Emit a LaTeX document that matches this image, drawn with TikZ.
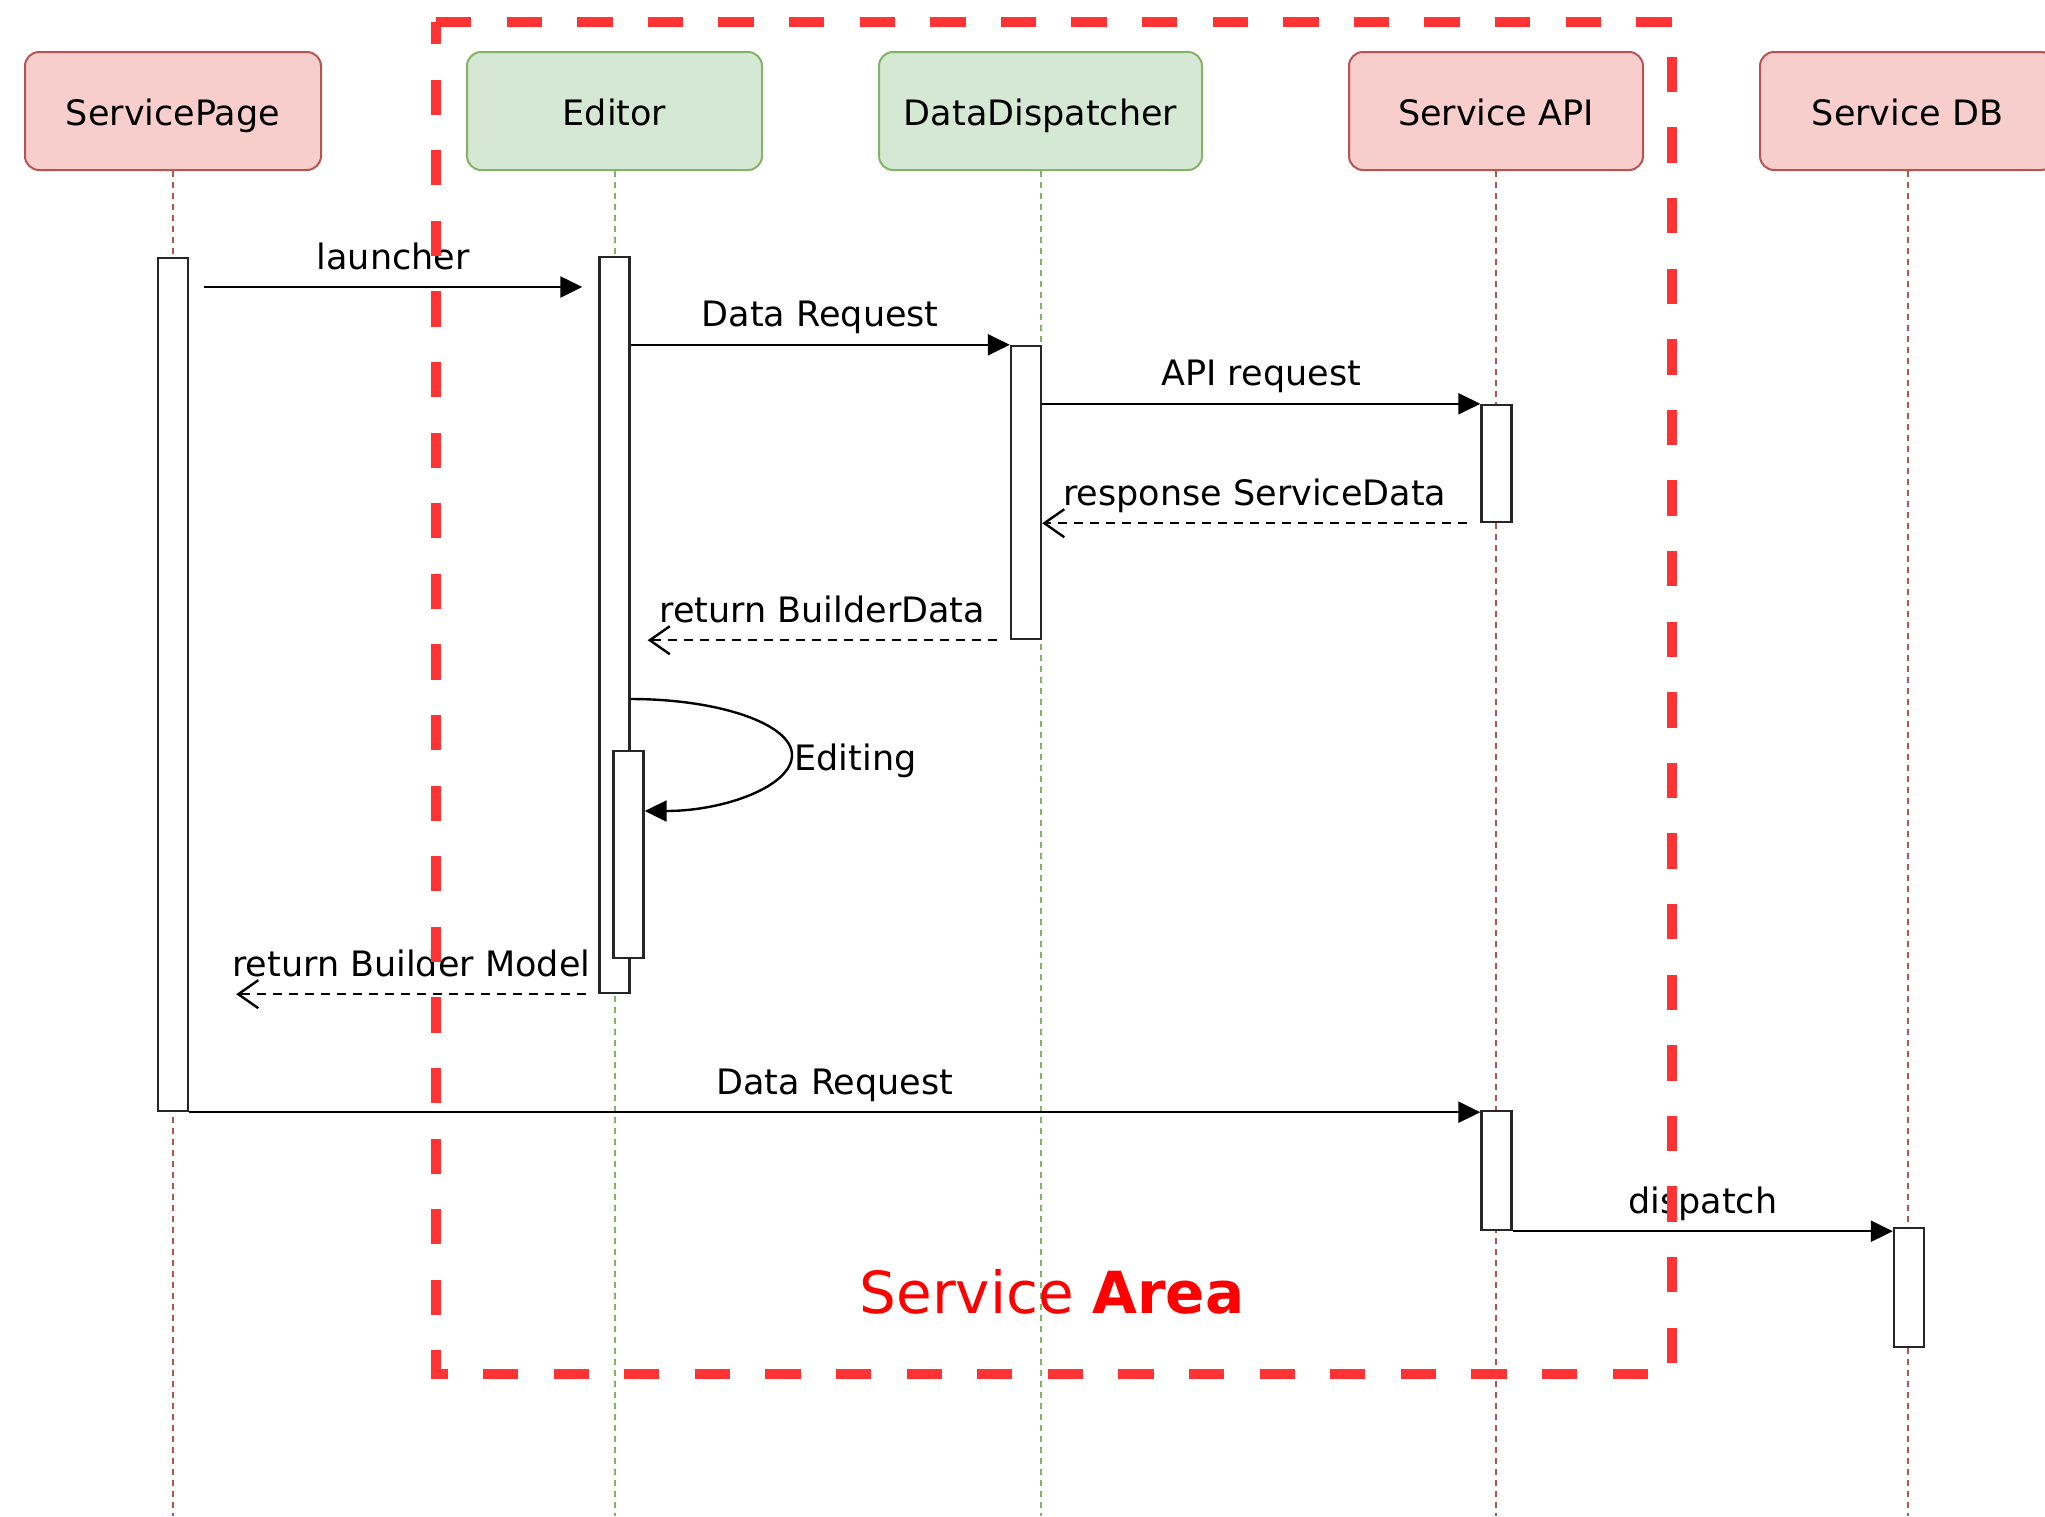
\documentclass[tikz,border=0pt]{standalone}
\usepackage{fontspec}
\setmainfont{DejaVu Sans}
\usetikzlibrary{arrows.meta, calc}
\definecolor{head-red}{HTML}{B85450}
\definecolor{fill-red}{HTML}{F8CECC}
\definecolor{head-green}{HTML}{82B366}
\definecolor{fill-green}{HTML}{D5E8D4}
\definecolor{area-red}{HTML}{FF3333}

\begin{document}
\begin{tikzpicture}[x=1pt, y=-1pt,
      every node/.style={font=\fontsize{35}{42}\selectfont},
      head/.style={draw, rounded corners=14pt, minimum height=118pt, line width=2pt,
                   text height=33pt, text depth=5pt},
      redhead/.style={head, draw=head-red, fill=fill-red},
      greenhead/.style={head, draw=head-green, fill=fill-green},
      bar/.style={draw=black!85, fill=white, line width=2.4pt, minimum width=30pt, inner sep=0pt},
      life/.style={line width=2pt, dash pattern=on 6pt off 5pt},
      msg/.style={line width=2.4pt, -{Triangle[length=22pt,width=21pt]}},
      ret/.style={line width=2.4pt, dash pattern=on 9pt off 7pt, -{Straight Barb[length=20pt,width=28pt]}},
      lbl/.style={midway, anchor=base, yshift=18pt},
      area/.style={draw=area-red, line width=10pt, dash pattern=on 35.3pt off 35.3pt}]
    \useasboundingbox (0,0) rectangle (2045,1516);
    \clip (0,0) rectangle (2045,1516);
    % participants
    \node[redhead, minimum width=296pt] (SP) at (173,111) {ServicePage};
    \node[greenhead, minimum width=295pt] (ED) at (614.5,111) {Editor};
    \node[greenhead, minimum width=323pt] (DD) at (1040.5,111) {DataDispatcher};
    \node[redhead, minimum width=294pt] (API) at (1496,111) {Service API};
    \node[redhead, minimum width=295pt] (DB) at (1907.5,111) {Service DB};
    \draw[life, draw=head-red] (SP.south) -- (SP.south |- 0,1516);
    \draw[life, draw=head-green] (ED.south) -- (ED.south |- 0,1516);
    \draw[life, draw=head-green] (DD.south) -- (DD.south |- 0,1516);
    \draw[life, draw=head-red] (API.south) -- (API.south |- 0,1516);
    \draw[life, draw=head-red] (DB.south) -- (DB.south |- 0,1516);
    % activations
    \node[bar, minimum height=853pt] (SPa) at (173,684.5) {};
    \node[bar, minimum height=736pt] (EDa) at (614.5,625) {};
    \node[bar, minimum height=207pt] (EDb) at (628.5,854.5) {};
    \node[bar, minimum height=293pt] (DDa) at (1026,492.5) {};
    \node[bar, minimum height=117pt] (APIa) at (1496.5,463.5) {};
    \node[bar, minimum height=119pt] (APIb) at (1496.5,1170.5) {};
    \node[bar, minimum height=119pt] (DBa) at (1909,1287.5) {};
    % messages
    \draw[msg] ($(SPa.east |- 0,287)+(15,0)$) -- ($(EDa.west |- 0,287)+(-16,0)$) node[lbl] {launcher};
    \draw[msg] (EDa.east |- DDa.north) -- (DDa.north west) node[lbl] {Data Request};
    \draw[msg] (DDa.east |- APIa.north) -- (APIa.north west) node[lbl] {API request};
    \draw[ret] ($(APIa.south west)+(-13,0)$) -- (DDa.east |- APIa.south) node[lbl] {response ServiceData};
    \draw[ret] ($(DDa.south west)+(-13,0)$) -- ($(EDa.east |- DDa.south)+(17,0)$) node[lbl] {return BuilderData};
    \node[anchor=base west] (ELBL) at (791,770) {Editing};
    \draw[msg] (EDa.east |- 0,699) .. controls (719,699) and (792,724) .. (792,755)
          .. controls (792,786) and (725,811) .. (EDb.east |- 0,811);
    \draw[ret] ($(EDa.south west)+(-12,0)$) -- ($(SPa.east |- EDa.south)+(47,0)$) node[lbl] {return Builder Model};
    \draw[msg] (SPa.south east) -- (APIb.west |- SPa.south) node[lbl] {Data Request};
    \draw[msg] (APIb.south east) -- (DBa.west |- APIb.south) node[lbl] {dispatch};
    % service area frame
    \draw[area] (436,22) -- (1672,22) -- (1672,1374) -- (436,1374) -- cycle;
    \node[anchor=base, text=red, font=\fontsize{58}{70}\selectfont] (AREA) at (1052,1313) {Service \textbf{Area}};
  \end{tikzpicture}
\end{document}
